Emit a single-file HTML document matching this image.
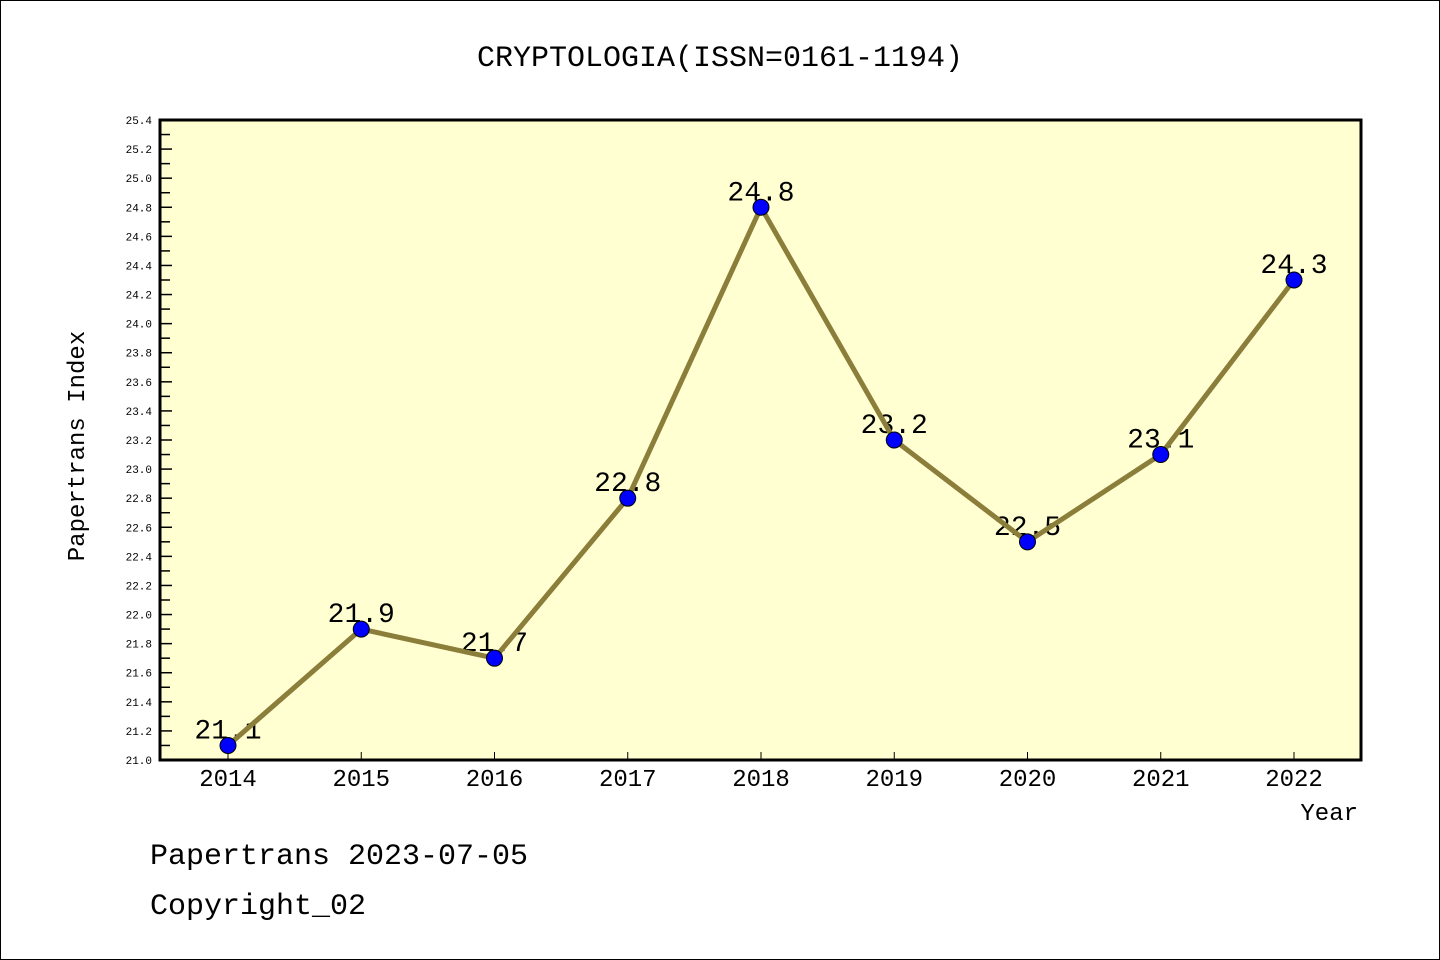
<!DOCTYPE html>
<html><head><meta charset="utf-8"><style>
html,body{margin:0;padding:0;background:#fff}
svg{display:block}
text{font-family:"Liberation Mono","DejaVu Sans Mono",monospace}
</style></head><body>
<svg id="chart" width="1440" height="960" xmlns="http://www.w3.org/2000/svg">
<rect x="0.5" y="0.5" width="1439" height="959" fill="#fff" stroke="#000" stroke-width="1"/>
<text x="720" y="66" text-anchor="middle" font-size="30">CRYPTOLOGIA(ISSN=0161-1194)</text>
<rect x="160" y="120" width="1201" height="640" fill="#ffffd2"/>
<g id="yticks"></g><g id="xticks"></g><g id="labels"></g><g id="series"></g>
<rect x="160" y="120" width="1201" height="640" fill="none" stroke="#000" stroke-width="3"/>
<text transform="translate(84,446) rotate(-90)" text-anchor="middle" font-size="24">Papertrans Index</text>
<text x="1358" y="820" text-anchor="end" font-size="24">Year</text>
<text x="150" y="864" font-size="30">Papertrans 2023-07-05</text>
<text x="150" y="914" font-size="30">Copyright_02</text>
</svg>
<script>
const years=["2014","2015","2016","2017","2018","2019","2020","2021","2022"];
const values=[21.1,21.9,21.7,22.8,24.8,23.2,22.5,23.1,24.3];
const valueLabels=["21.1","21.9","21.7","22.8","24.8","23.2","22.5","23.1","24.3"];
const yMin=21.0,yMax=25.4;
const NS="http://www.w3.org/2000/svg";
function xs(i){return 228+i*(1294-228)/(years.length-1);}
function ys(v){return 760-(v-yMin)/(yMax-yMin)*640;}
function mk(t,a,p){const e=document.createElementNS(NS,t);for(const k in a)e.setAttribute(k,a[k]);p.appendChild(e);return e;}
const yt=document.getElementById('yticks');
for(let k=0;k<=44;k++){
  const v=yMin+k*0.1,y=ys(v),major=k%2===0;
  const l=mk('line',{x1:160,x2:major?172:170,y1:y,y2:y,stroke:'#000','stroke-width':1.5},yt);
  
  
  if(major){const t=mk('text',{x:152,y:y+4,'text-anchor':'end','font-size':11,'font-family':'Liberation Sans, sans-serif'},yt);t.textContent=v.toFixed(1);
  
  }
}
const xt=document.getElementById('xticks');
years.forEach((yr,i)=>{
  const x=xs(i);
  const l=mk('line',{x1:x,x2:x,y1:752,y2:760,stroke:'#000','stroke-width':1},xt);
  
  
  const t=mk('text',{x:x,y:786,'text-anchor':'middle','font-size':24},xt);t.textContent=yr;
  
  
});
const lb=document.getElementById('labels');
values.forEach((v,i)=>{
  const t=mk('text',{x:xs(i),y:ys(v)-7,'text-anchor':'middle','font-size':28},lb);t.textContent=valueLabels[i];
  
  
});
const sg=document.getElementById('series');
const pl=mk('polyline',{points:values.map((v,i)=>xs(i)+','+ys(v)).join(' '),fill:'none',stroke:'#8b7d3a','stroke-width':5,'stroke-linejoin':'round'},sg);


values.forEach((v,i)=>{
  const c=mk('circle',{cx:xs(i),cy:ys(v),r:8,fill:'#0000ff',stroke:'#000','stroke-width':1},sg);
  
  
});
</script>
</body></html>
